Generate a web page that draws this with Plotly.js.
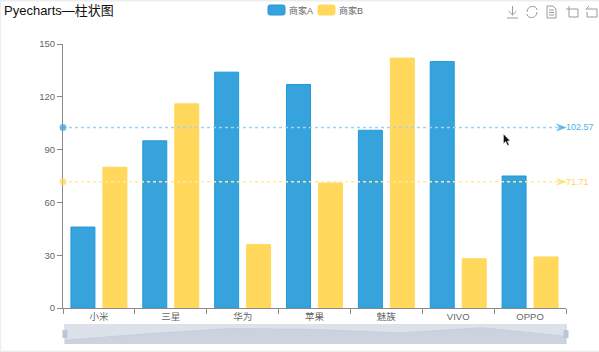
<!DOCTYPE html>
<html><head><meta charset="utf-8">
<script src="https://cdn.plot.ly/plotly-3.0.1.min.js"></script>
<style>html,body{margin:0;padding:0;background:#fff}#c{width:599px;height:352px}</style>
</head><body><div id="c"></div>
<script>
const categories = ["小米","三星","华为","苹果","魅族","VIVO","OPPO"];
const seriesA = [46,95,134,127,101,140,75];
const seriesB = [80,116,36,71,142,28,29];
const averageA = [102.57,102.57];
const averageB = [71.71,71.71];
const lineEnds = [0,1];
const yTicks = [0,30,60,90,120,150];

const W=599,H=352;
const px=x=>x/W, py=y=>(H-y)/H;
const FONT='"Liberation Sans","Noto Sans CJK SC",sans-serif';
const BLUE='#36a3dc', YEL='#ffd85c';

function P(d){ // pixel path to paper path
  return d.replace(/(-?[\d.]+),(-?[\d.]+)/g,(m,a,b)=>px(+a).toFixed(5)+','+py(+b).toFixed(5));
}
function pth(d,opt){return Object.assign({type:'path',xref:'paper',yref:'paper',path:P(d),line:{color:'#9a9a9a',width:1},layer:'above'},opt||{});}
function rect(x0,y0,x1,y1,fill,layer,line){return {type:'rect',xref:'paper',yref:'paper',x0:px(x0),x1:px(x1),y0:py(y0),y1:py(y1),fillcolor:fill,line:line||{width:0},layer:layer||'below'};}

const shapes=[
  // frame of the picture
  rect(0,0,599,1.5,'#eeeeee'),rect(0,0,1.2,352,'#eeeeee'),rect(0,350.5,599,352,'#eeeeee'),
  // data zoom
  rect(65,324,566,344,'#dde1ea'),
  rect(64.5,324,65.5,344,'#c4cbdc','above'),rect(565.5,324,566.5,344,'#c4cbdc','above'),
  rect(62.5,330,67.5,338,'#bcc5da','above'),rect(563.5,330,568.5,338,'#bcc5da','above'),
  // toolbox: save
  pth('M512.5,6 L512.5,15 M508.5,11 L512.5,15 L516.5,11 M507,18 L518,18'),
  // refresh
  pth('M527,12 C527,5 537,5 537,10 M537,12 C537,19 527,19 527,14'),
  // data view
  pth('M547,6 L553,6 L556,9 L556,18 L547,18 Z M549,10 L554,10 M549,12.5 L554,12.5 M549,15 L554,15'),
  // zoom
  pth('M569,6 L569,17 L578,17 L578,9 L566,9'),
  // zoom back
  pth('M589,6 L586,9 L597,9 L597,17 L587,17 L587,12'),
  // cursor
  {type:'path',xref:'paper',yref:'paper',path:P('M503.5,134 L503.5,143.5 L505.8,141.5 L507.5,145.5 L509,144.8 L507.4,141 L510,140.8 Z'),fillcolor:'#111',line:{color:'#ddd',width:0.5},layer:'above'}
];

const mk=(ys,c)=>({type:'scatter',mode:'markers',x:lineEnds,y:ys,xaxis:'x3',yaxis:'y',cliponaxis:false,showlegend:false,hoverinfo:'skip',
   marker:{color:c,size:[7,10],symbol:['circle','arrow'],angle:[0,90],line:{width:0}}});
const traces=[
  {type:'bar',name:'商家A',x:categories,y:seriesA,marker:{color:BLUE,line:{color:'#1f9ad9',width:1}},xaxis:'x',yaxis:'y',hoverinfo:'skip'},
  {type:'bar',name:'商家B',x:categories,y:seriesB,marker:{color:YEL,line:{color:YEL,width:1}},xaxis:'x',yaxis:'y',hoverinfo:'skip'},
  {type:'scatter',mode:'lines',x:categories,y:seriesA,xaxis:'x2',yaxis:'y2',fill:'tozeroy',fillcolor:'#cdd2df',line:{color:'#c8cedc',width:1},showlegend:false,hoverinfo:'skip'},
  {type:'scatter',mode:'lines',x:lineEnds,y:averageA,xaxis:'x3',yaxis:'y',line:{color:'#a0d4f1',width:1.5,dash:'3px,3px'},showlegend:false,hoverinfo:'skip',cliponaxis:false},
  {type:'scatter',mode:'lines',x:lineEnds,y:averageB,xaxis:'x3',yaxis:'y',line:{color:'#ffe99f',width:1.5,dash:'3px,3px'},showlegend:false,hoverinfo:'skip',cliponaxis:false},
  mk(averageA,BLUE),mk(averageB,YEL)
];

const axisColor='#8a8a8a', tickFont={size:9.5,color:'#666',family:FONT};
const lab=(ys,c)=>({xref:'x3',yref:'y',x:1,y:ys[1],text:ys[1].toFixed(2),showarrow:false,xanchor:'left',yanchor:'middle',xshift:-2,font:{size:9,color:c,family:FONT}});
const layout={
  width:W,height:H,margin:{l:0,r:0,t:0,b:0,pad:0},
  paper_bgcolor:'#fff',plot_bgcolor:'rgba(0,0,0,0)',
  title:{text:'Pyecharts—柱状图',x:4/W,xanchor:'left',y:1-10/H,yanchor:'middle',font:{size:13,color:'#111',family:FONT}},
  barmode:'group',bargap:0.11,bargroupgap:0.25,
  showlegend:true,
  legend:{orientation:'h',x:px(315),xanchor:'center',y:py(1),yanchor:'top',font:{size:9,color:'#666',family:FONT},itemclick:false,itemdoubleclick:false,bgcolor:'rgba(0,0,0,0)'},
  annotations:[lab(averageA,'#4fb0e6'),lab(averageB,'#ffd44f')],
  xaxis:{domain:[px(63),px(566)],anchor:'y',type:'category',categoryarray:categories,categoryorder:'array',tickson:'boundaries',ticks:'outside',ticklen:5,tickcolor:axisColor,tickwidth:1,showline:true,linecolor:axisColor,linewidth:1,showgrid:false,zeroline:false,tickfont:tickFont,range:[-0.5,6.5],layer:'below traces'},
  yaxis:{domain:[py(308),py(44)],anchor:'x',range:[0,150],tickmode:'array',tickvals:yTicks,ticks:'outside',ticklen:5,tickcolor:axisColor,tickwidth:1,showline:true,linecolor:axisColor,linewidth:1,showgrid:false,zeroline:false,tickfont:tickFont,layer:'below traces'},
  xaxis2:{domain:[px(65),px(566)],anchor:'y2',type:'category',categoryarray:categories,categoryorder:'array',range:[0,6],visible:false},
  yaxis2:{domain:[py(344),py(324)],anchor:'x2',range:[17.8,168.2],visible:false},
  xaxis3:{overlaying:'x',anchor:'y',range:[0,1],visible:false},
  shapes:shapes
};
Plotly.newPlot('c',traces,layout,{displayModeBar:false}).then(()=>{
  // echarts-style legend items: wide rounded swatch close to its label
  document.querySelectorAll('.legend .traces').forEach((g,i)=>{
    const m=g.parentNode.getScreenCTM();
    g.setAttribute('transform','translate('+(268+50*i-m.e)+','+(10-m.f)+')');
    const p=g.querySelector('.legendpoints path');
    if(p){p.setAttribute('d','M2,-5H15A2,2 0 0 1 17,-3V3A2,2 0 0 1 15,5H2A2,2 0 0 1 0,3V-3A2,2 0 0 1 2,-5Z');p.setAttribute('transform','translate(0,0)');p.parentNode.setAttribute('transform','');}
    const t=g.querySelector('text.legendtext');
    if(t){t.setAttribute('x',21);}
  });
  // echarts-style notched arrow heads at the end of the mean lines
  document.querySelectorAll('.scatterlayer .points path:nth-child(2)').forEach(p=>{
    p.setAttribute('d','M1,0L-10,-4L-7,0L-10,4Z');
  });
});
</script></body></html>
